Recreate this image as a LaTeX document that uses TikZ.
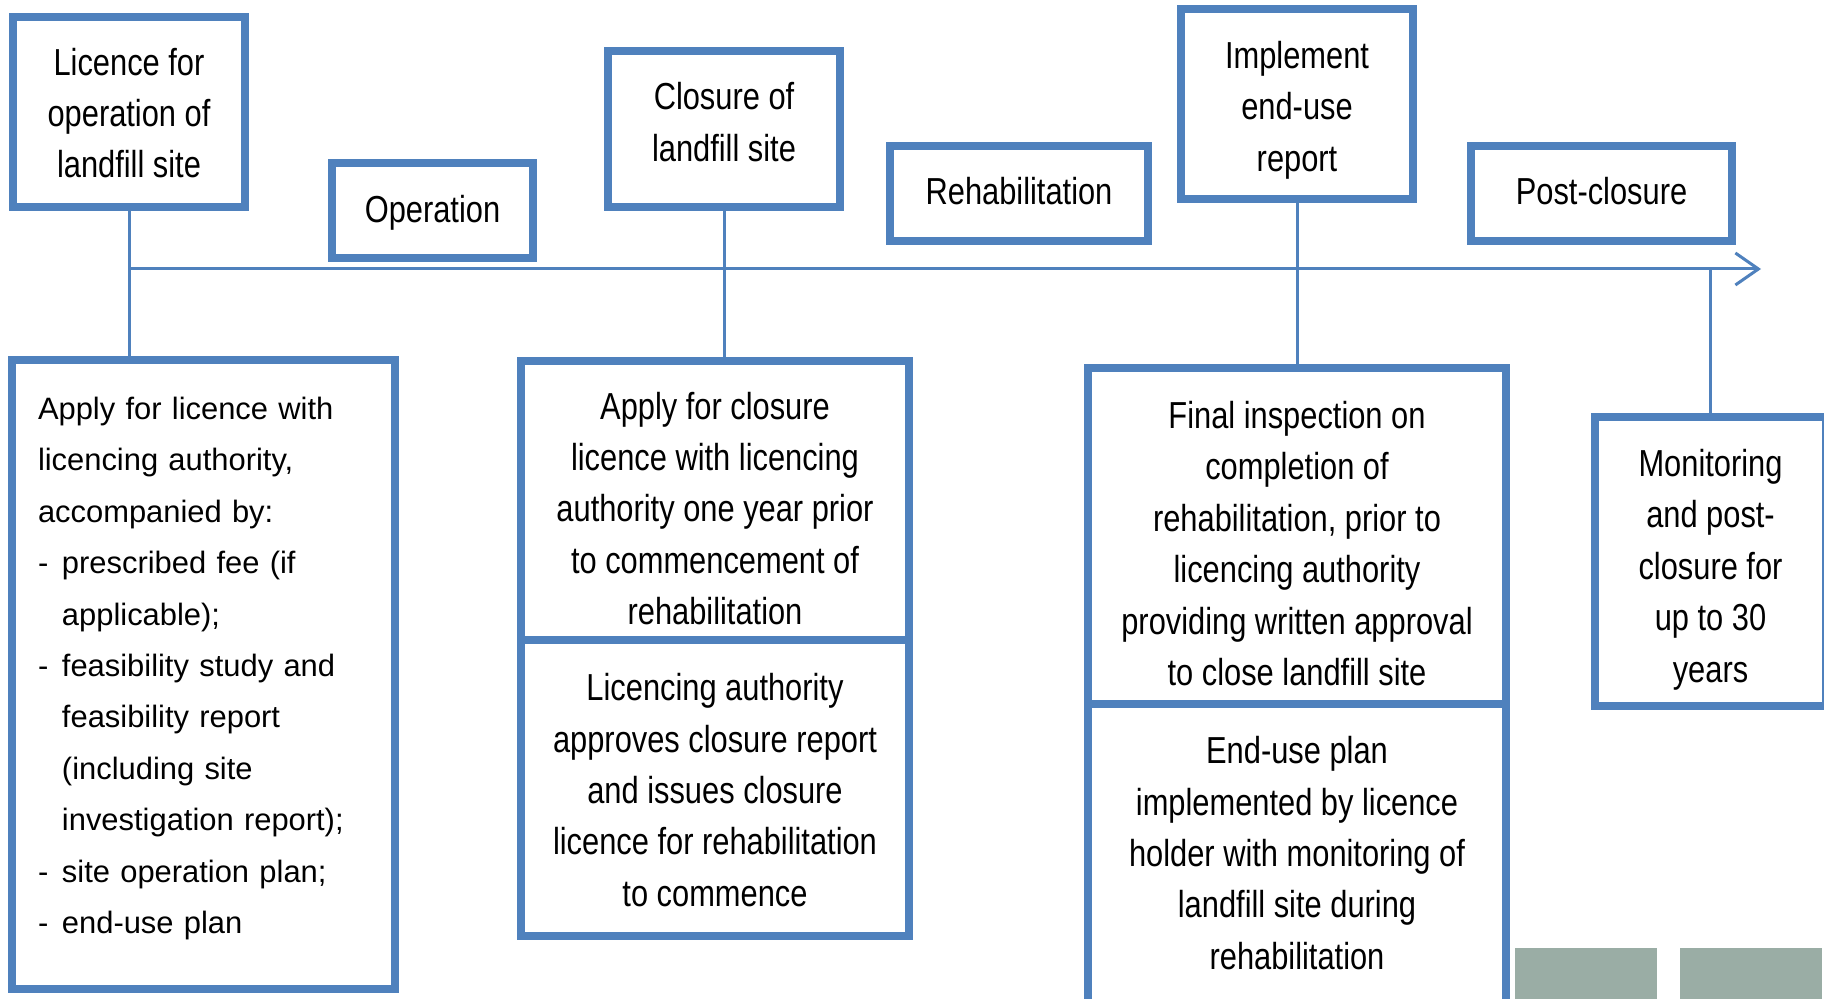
\documentclass[tikz,border=0pt]{standalone}
\usepackage{fontspec}
\setmainfont{Liberation Sans}
\newfontfamily\narrowfont[FakeStretch=0.82]{Liberation Sans}
\usetikzlibrary{arrows.meta}
\definecolor{bblue}{HTML}{4F81BD}
\definecolor{ggrey}{HTML}{9AADA5}
\begin{document}
\begin{tikzpicture}[x=0.5pt,y=-0.5pt,
  box/.style={draw=bblue, line width=4pt, fill=white, inner sep=0pt},
  ntext/.style={inner sep=0pt, align=center, font=\narrowfont\fontsize{18.8pt}{25.7pt}\selectfont},
  conn/.style={draw=bblue, line width=1.5pt}]
\clip (0,0) rectangle (1824,999);
\fill[white] (0,0) rectangle (1824,999);
% top boxes
\node[box, minimum width=116pt, minimum height=95pt] (lic) at (129,112) {};
\node[ntext] (lict) at (129,113) {Licence for\\operation of\\landfill site};
\node[box, minimum width=100.5pt, minimum height=47.5pt] (ope) at (432.5,210.5) {};
\node[ntext] (opet) at (432.5,213) {Operation};
\node[box, minimum width=116pt, minimum height=78pt] (clo) at (724,129) {};
\node[ntext] (clot) at (724,122) {Closure of\\landfill site};
\node[box, minimum width=129pt, minimum height=47.5pt] (reh) at (1019,193.5) {};
\node[ntext] (reht) at (1019,191) {Rehabilitation};
\node[box, minimum width=116pt, minimum height=95pt] (imp) at (1297,104) {};
\node[ntext] (impt) at (1297,110) {Implement\\end-use\\report};
\node[box, minimum width=130.5pt, minimum height=47.5pt] (pos) at (1601.5,193.5) {};
\node[ntext] (post) at (1601.5,191) {Post-closure};
% bottom boxes
\node[box, minimum width=191.5pt, minimum height=314.5pt] (app) at (203.5,674.5) {};
\node[inner sep=0pt, text width=165.5pt, align=left,
  font=\normalfont\fontsize{15.45pt}{25.7pt}\selectfont] (appt) at (203.5,668.5)
 {Apply for licence with\\
  licencing authority,\\
  accompanied by:\\
  \makebox[12pt][l]{-}prescribed fee (if\\
  \hspace*{12pt}applicable);\\
  \makebox[12pt][l]{-}feasibility study and\\
  \hspace*{12pt}feasibility report\\
  \hspace*{12pt}(including site\\
  \hspace*{12pt}investigation report);\\
  \makebox[12pt][l]{-}site operation plan;\\
  \makebox[12pt][l]{-}end-use plan};
\node[box, minimum width=194pt, minimum height=140.5pt] (mtop) at (715,501.5) {};
\node[ntext] (mtopt) at (715,508.5)
 {Apply for closure\\licence with licencing\\authority one year prior\\to commencement of\\rehabilitation};
\node[box, minimum width=194pt, minimum height=148pt] (mbot) at (715,788) {};
\node[ntext] (mbott) at (715,790)
 {Licencing authority\\approves closure report\\and issues closure\\licence for rehabilitation\\to commence};
\node[box, minimum width=209pt, minimum height=169.5pt] (rtop) at (1297,537.5) {};
\node[ntext] (rtopt) at (1297,543.5)
 {Final inspection on\\completion of\\rehabilitation, prior to\\licencing authority\\providing written approval\\to close landfill site};
\node[box, minimum width=209pt, minimum height=152pt] (rbot) at (1297,856) {};
\node[ntext] (rbott) at (1297,853)
 {End-use plan\\implemented by licence\\holder with monitoring of\\landfill site during\\rehabilitation};
\node[box, minimum width=115.5pt, minimum height=144.5pt] (mon) at (1710.5,561.5) {};
\node[ntext] (mont) at (1710.5,569.5)
 {Monitoring\\and post-\\closure for\\up to 30\\years};
% timeline and connectors
\coordinate (tly) at (0,269);
\coordinate (tlend) at (1761,269);
\draw[conn, -{Straight Barb[length=11.5pt,width=16pt]}] (lic.south |- tly) -- (tlend);
\draw[conn] (lic.south) -- (lic.south |- app.north);
\draw[conn] (clo.south) -- (clo.south |- mtop.north);
\draw[conn] (imp.south) -- (imp.south |- rtop.north);
\draw[conn] (mon.north |- tly) -- (mon.north);
% grey blocks
\fill[ggrey] (1515,948) rectangle (1657,999);
\fill[ggrey] (1680,948) rectangle (1822,999);
\end{tikzpicture}
\end{document}
